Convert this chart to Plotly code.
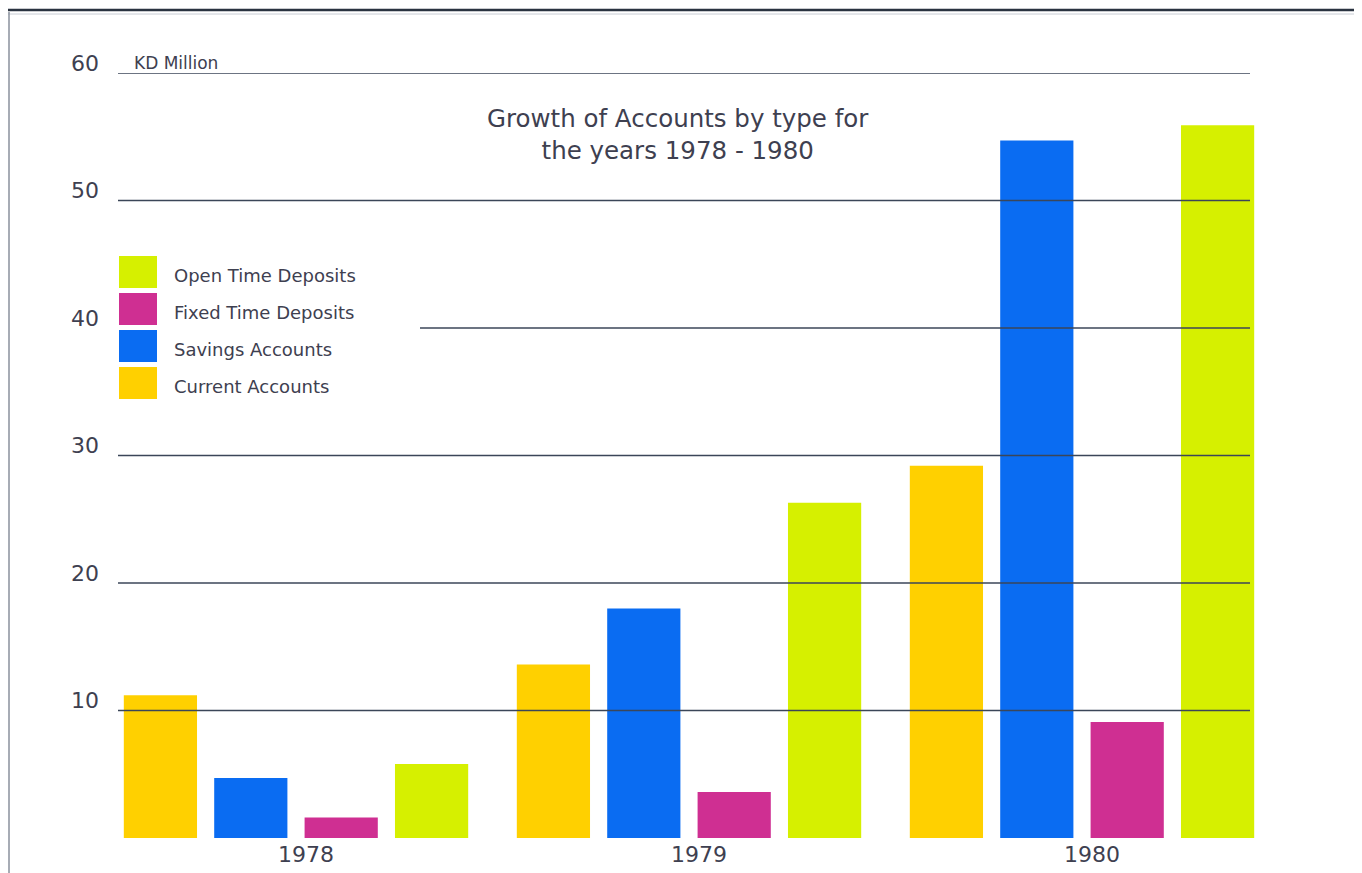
import plotly.graph_objects as go

# ---------------- data ----------------
years = ["1978", "1979", "1980"]
series_names = ["Current Accounts", "Savings Accounts", "Fixed Time Deposits", "Open Time Deposits"]
current_accounts = [11.2, 13.6, 29.2]
savings_accounts = [4.7, 18.0, 54.7]
fixed_time_deposits = [1.6, 3.6, 9.1]
open_time_deposits = [5.8, 26.3, 55.9]
y_ticks = [10, 20, 30, 40, 50, 60]
unit_label = "KD Million"
title_text = "Growth of Accounts by type for<br>the years 1978 - 1980"

colors = ["#FFD000", "#0A6CF2", "#CF2F92", "#D6F000"]
values = [current_accounts, savings_accounts, fixed_time_deposits, open_time_deposits]

# ---------------- layout geometry (page pixels; figure sits at 8px body offset) ----------------
OFF = 8
PAGE_W, PAGE_H = 1362, 873
W, H = PAGE_W - OFF, PAGE_H - OFF
PLOT_L, PLOT_R, PLOT_T, PLOT_B = 118, 1262, 73, 838     # page coords
L, R, T, B = PLOT_L - OFF, PAGE_W - PLOT_R, PLOT_T - OFF, PAGE_H - PLOT_B
PW, PH = PLOT_R - PLOT_L, PLOT_B - PLOT_T
FONT = "DejaVu Sans, Verdana, sans-serif"
TXT = "#3e4050"
GRID = "#3b4658"


def px_x(p):
    return (p - PLOT_L) / PW


def px_y(p):
    return (PLOT_B - p) / PH


fig = go.Figure()
for name, vals, col in zip(series_names, values, colors):
    fig.add_trace(go.Bar(
        x=years, y=vals, name=name,
        marker=dict(color=col, line=dict(width=0)),
        showlegend=False,
    ))

shapes = []
# horizontal rules at tick values (drawn above the bars, as in the original)
for v in y_ticks:
    x0 = px_x(420) if v == 40 else 0
    shapes.append(dict(type="line", xref="paper", yref="y", x0=x0, x1=px_x(1250),
                       y0=v, y1=v, line=dict(color=GRID, width=1.5), layer="above"))

# page frame (scan edge)
shapes.append(dict(type="line", xref="paper", yref="paper", x0=px_x(OFF), x1=px_x(PAGE_W),
                   y0=px_y(10), y1=px_y(10), line=dict(color="#2a3340", width=2.5)))
shapes.append(dict(type="line", xref="paper", yref="paper", x0=px_x(OFF), x1=px_x(PAGE_W),
                   y0=px_y(14), y1=px_y(14), line=dict(color="#c8ccd4", width=1)))
shapes.append(dict(type="line", xref="paper", yref="paper", x0=px_x(9), x1=px_x(9),
                   y0=px_y(12), y1=px_y(PAGE_H), line=dict(color="#8a909c", width=1.5)))

annotations = []
# legend (custom, large swatches), listed top-down in reverse order
leg_top = 256
leg_step = 37
for i, (name, col) in enumerate(reversed(list(zip(series_names, colors)))):
    y_top = leg_top + i * leg_step
    shapes.append(dict(type="rect", xref="paper", yref="paper",
                       x0=px_x(119), x1=px_x(157), y0=px_y(y_top), y1=px_y(y_top + 32),
                       fillcolor=col, line=dict(width=0)))
    annotations.append(dict(text=name, xref="paper", yref="paper", x=px_x(172),
                            y=px_y(y_top + 19), xanchor="left", yanchor="middle",
                            showarrow=False, font=dict(family=FONT, size=18, color=TXT)))

annotations.append(dict(text=unit_label, xref="paper", yref="y", x=px_x(132), y=60,
                        yshift=10, xanchor="left", yanchor="middle", showarrow=False,
                        font=dict(family=FONT, size=17, color=TXT)))
annotations.append(dict(text=title_text, xref="paper", yref="paper", x=px_x(678),
                        y=px_y(134), xanchor="center", yanchor="middle", showarrow=False,
                        align="center", font=dict(family=FONT, size=24.5, color=TXT)))

fig.update_layout(
    width=W, height=H,
    margin=dict(l=L, r=R, t=T, b=B, pad=0, autoexpand=False),
    paper_bgcolor="white", plot_bgcolor="white",
    barmode="group", bargap=0.08, bargroupgap=0.19,
    showlegend=False,
    shapes=shapes, annotations=annotations,
    xaxis=dict(type="category", range=[(PLOT_L - 296) / 393, (PLOT_R - 296) / 393],
               automargin=False,
               showgrid=False, showline=False, zeroline=False, ticks="",
               tickfont=dict(family=FONT, size=22, color=TXT), ticklabelshift=10,
               ticklabelstandoff=1),
    yaxis=dict(range=[0, 60], tickvals=y_ticks, showgrid=False, showline=False,
               automargin=False,
               zeroline=False, ticks="", ticklabelshift=-10, ticklabelstandoff=18,
               tickfont=dict(family=FONT, size=22, color=TXT)),
)

fig.write_html("out.html")
